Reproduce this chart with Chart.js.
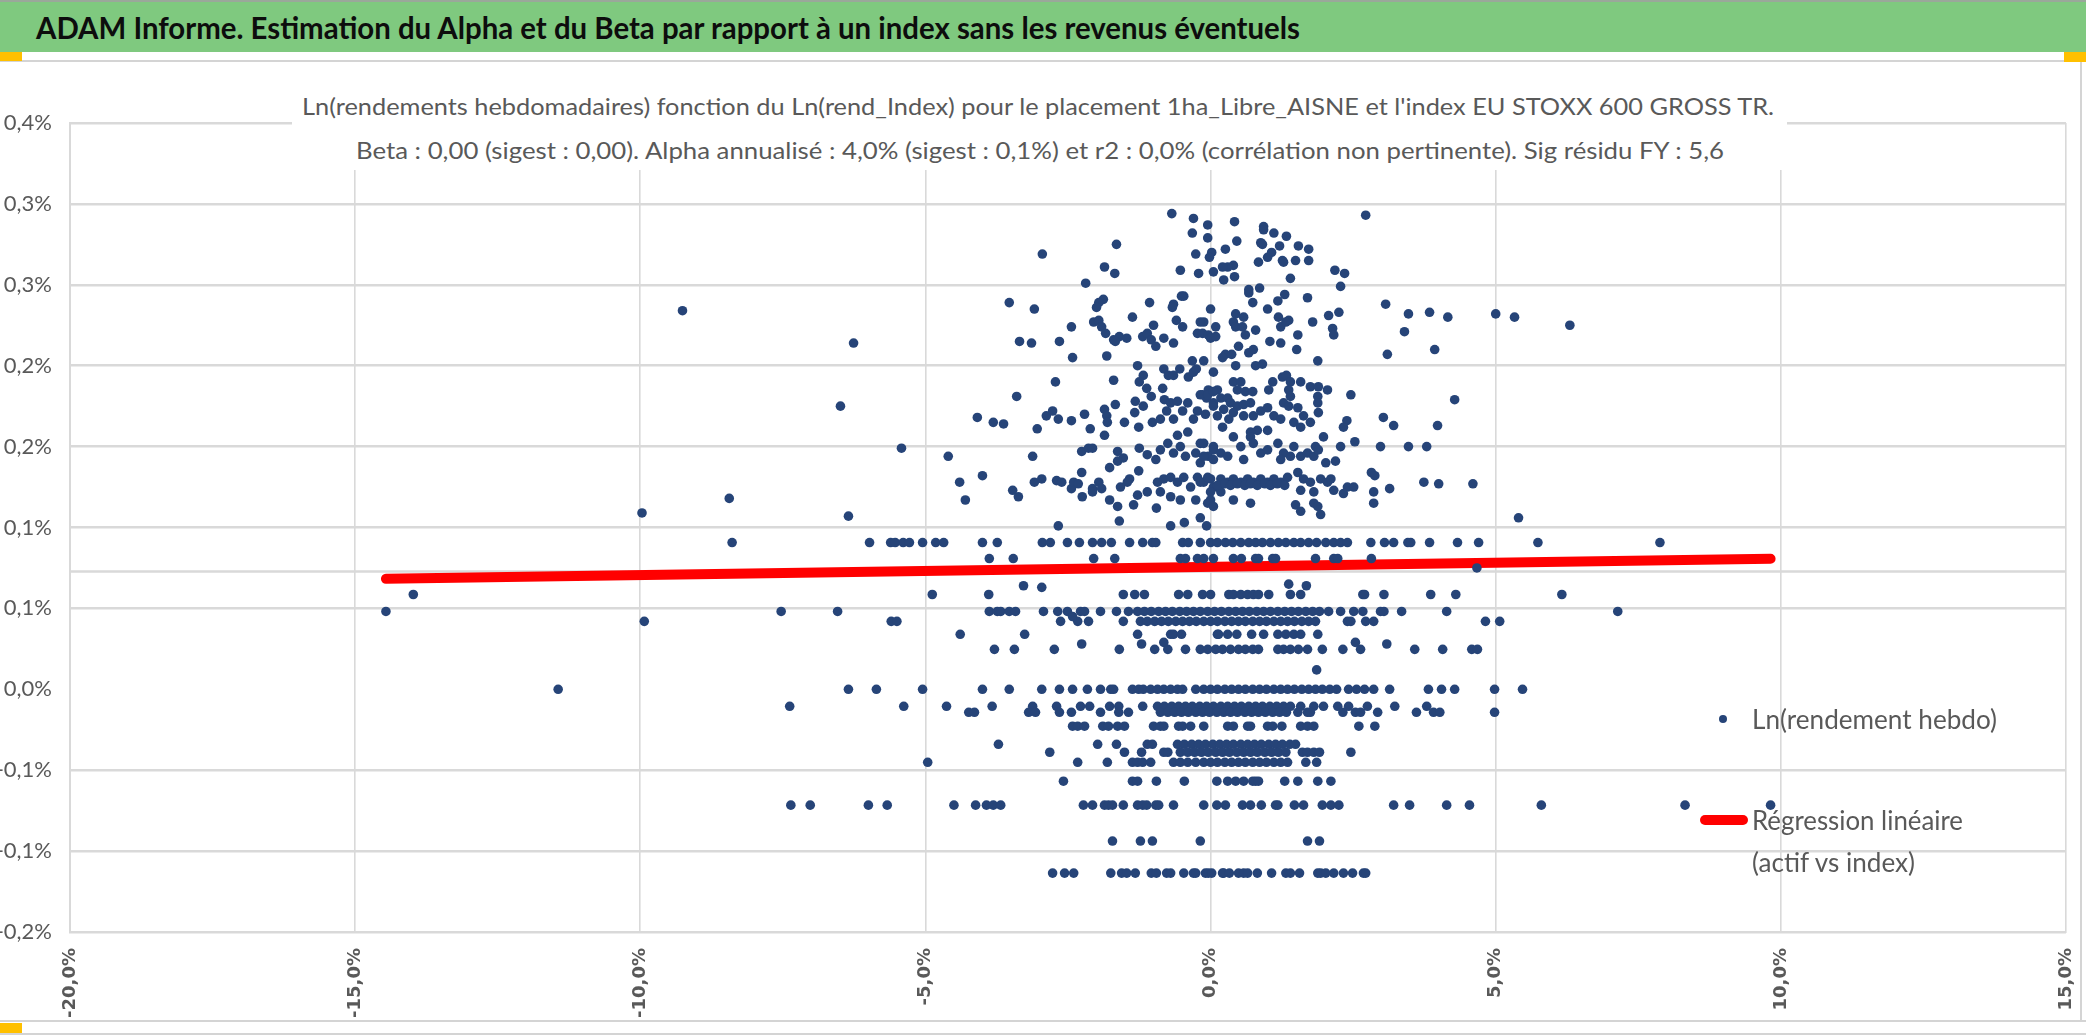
<!DOCTYPE html>
<html><head><meta charset="utf-8">
<script src="https://cdn.jsdelivr.net/npm/chart.js@4.4.1/dist/chart.umd.min.js"></script>
<style>
html,body{margin:0;padding:0;background:#fff;width:2086px;height:1035px;overflow:hidden;}
#wrap{position:relative;width:2086px;height:1035px;}
canvas{position:absolute;left:0;top:0;}
.abs{position:absolute;}
.fit{position:absolute;white-space:nowrap;transform-origin:0 50%;line-height:1;font-family:'Liberation Sans Narrow','Lato',sans-serif;}
</style></head><body>
<div id="wrap">
<canvas id="c" width="2086" height="1035"></canvas>
<div class="abs" style="left:0;top:0;width:2086px;height:2px;background:#9aa89a"></div>
<div class="abs" style="left:0;top:2px;width:2086px;height:50px;background:#7fc97f"></div>
<div class="fit" data-w="1264" style="left:36px;top:27px;font-size:30px;font-weight:bold;color:#0d0d0d">ADAM Informe. Estimation du Alpha et du Beta par rapport à un index sans les revenus éventuels</div>
<div class="abs" style="left:0;top:60px;width:2086px;height:2px;background:#d4d4d4"></div>
<div class="abs" style="left:0;top:52px;width:22px;height:9px;background:#ffc000"></div>
<div class="abs" style="left:2064px;top:52px;width:22px;height:10px;background:#ffc000"></div>
<div class="abs" style="left:2080px;top:62px;width:2px;height:960px;background:#d4d4d4"></div>
<div class="abs" style="left:0;top:1020px;width:2086px;height:2px;background:#d4d4d4"></div>
<div class="abs" style="left:0;top:1023px;width:22px;height:10px;background:#ffc000"></div>
<div class="abs" style="left:0;top:1033px;width:2086px;height:2px;background:#d4d4d4"></div>
<div class="abs" style="left:292px;top:63px;width:1495px;height:107px;background:#fff"></div>
<div class="fit" data-w="1472" style="left:302px;top:106px;font-size:24px;color:#595959">Ln(rendements hebdomadaires) fonction du Ln(rend_Index) pour le placement 1ha_Libre_AISNE et l'index EU STOXX 600 GROSS TR.</div>
<div class="fit" data-w="1368" style="left:356px;top:150px;font-size:24px;color:#595959">Beta : 0,00 (sigest : 0,00). Alpha annualisé : 4,0% (sigest : 0,1%) et r2 : 0,0% (corrélation non pertinente). Sig résidu FY : 5,6</div>
<div class="abs" id="legDot" style="left:1719px;top:715px;width:8px;height:8px;border-radius:50%"></div>
<div class="fit" data-w="245" style="left:1752px;top:719px;font-size:26px;color:#595959">Ln(rendement hebdo)</div>
<div class="abs" id="legLine" style="left:1700px;top:815px;width:48px;height:10px;border-radius:5px"></div>
<div class="fit" data-w="211" style="left:1752px;top:820px;font-size:26px;color:#595959">Régression linéaire</div>
<div class="fit" data-w="163" style="left:1752px;top:862px;font-size:26px;color:#595959">(actif vs index)</div>
</div>
<script>
// ---------- DATA (values in %) ----------
const xTickValues = [-20,-15,-10,-5,0,5,10,15];
const xTickLabels = ['-20,0%','-15,0%','-10,0%','-5,0%','0,0%','5,0%','10,0%','15,0%'];
const yTickValues = [-0.15,-0.10,-0.05,0,0.05,0.10,0.15,0.20,0.25,0.30,0.35];
const yTickLabels = ['-0,2%','-0,1%','-0,1%','0,0%','0,1%','0,1%','0,2%','0,2%','0,3%','0,3%','0,4%'];

// regression line (actif vs index)
const regressionX = [-14.46, 9.82];
const regressionY = [0.0683, 0.0807];
// horizontal axis crossing level
const axisCrossY = 0.0728;

// weekly returns lying on discrete levels: level (asset return) and index returns on that level
const rowLevels = [0.0907,0.0808,0.0586,0.0481,0.0420,0.0340,0.0247,0,-0.0105,-0.0142,-0.0228,-0.0340,-0.0389,-0.0451,-0.0568,-0.0716,-0.0938,-0.1136];
const rowIndexX = [
 [-8.39,-5.98,-5.61,-5.53,-5.39,-5.28,-5.05,-4.82,-4.68,-4.00,-3.74,-2.95,-2.81,-2.51,-2.30,-2.07,-1.91,-1.74,-1.42,-1.19,-1.02,-0.96,-0.49,-0.39,-0.18,0.00,0.12,0.26,0.39,0.53,0.67,0.79,0.91,1.05,1.19,1.32,1.46,1.58,1.72,1.86,2.02,2.16,2.28,2.40,2.81,3.05,3.21,3.46,3.51,3.84,4.33,4.70,5.74,7.88],
 [-3.88,-3.46,-2.05,-1.68,-0.53,-0.44,-0.23,-0.12,0.05,0.40,0.54,0.79,0.84,1.09,1.14,1.84,2.16,2.23,2.82],
 [-13.98,-4.88,-3.89,-1.53,-1.33,-1.16,-0.56,-0.40,-0.14,0.00,0.32,0.40,0.53,0.65,0.75,0.84,1.02,1.40,1.58,2.67,2.70,3.04,3.86,4.30,6.16],
 [-14.46,-7.53,-6.54,-3.88,-3.74,-3.68,-3.53,-3.42,-2.93,-2.68,-2.51,-2.28,-2.21,-1.93,-1.65,-1.44,-1.28,-1.16,-1.04,-0.91,-0.79,-0.67,-0.54,-0.42,-0.30,-0.18,-0.05,0.07,0.19,0.32,0.44,0.56,0.68,0.81,0.93,1.05,1.18,1.30,1.42,1.54,1.67,1.79,1.91,2.07,2.28,2.51,2.67,2.98,3.04,3.35,4.14,7.14],
 [-9.93,-5.60,-5.50,-2.63,-2.33,-2.14,-1.53,-1.23,-1.11,-0.98,-0.86,-0.74,-0.61,-0.49,-0.37,-0.25,-0.12,0.00,0.12,0.25,0.37,0.49,0.61,0.74,0.86,0.98,1.11,1.23,1.35,1.47,1.60,1.72,1.84,2.40,2.46,2.72,2.86,4.82,5.07],
 [-4.39,-3.26,-1.28,-0.70,-0.65,-0.51,0.12,0.14,0.30,0.46,0.72,0.93,1.18,1.32,1.46,1.58,1.88],
 [-3.79,-3.44,-2.74,-1.60,-0.98,-0.75,-0.44,-0.18,-0.05,0.09,0.21,0.35,0.49,0.61,0.74,0.84,1.18,1.28,1.40,1.54,1.70,1.96,2.32,2.63,3.58,4.07,4.58,4.68],
 [-11.44,-6.35,-5.86,-5.05,-4.00,-3.53,-2.96,-2.65,-2.42,-2.16,-1.93,-1.75,-1.70,-1.37,-1.26,-1.18,-1.05,-0.93,-0.82,-0.70,-0.58,-0.49,-0.26,-0.12,0.00,0.12,0.25,0.37,0.49,0.61,0.74,0.86,0.98,1.11,1.23,1.35,1.47,1.60,1.72,1.84,1.96,2.09,2.21,2.42,2.56,2.70,2.86,3.14,3.82,4.05,4.28,4.98,5.47],
 [-7.38,-5.38,-4.63,-3.83,-3.12,-2.70,-2.28,-2.12,-1.77,-1.61,-1.19,-0.93,-0.81,-0.68,-0.56,-0.44,-0.32,-0.19,-0.07,0.05,0.18,0.30,0.42,0.54,0.67,0.79,0.91,1.04,1.16,1.28,1.40,1.58,1.81,1.98,2.23,2.42,2.75,3.23,3.79],
 [-4.24,-4.14,-3.19,-3.07,-2.65,-2.44,-1.93,-1.61,-1.44,-0.88,-0.75,-0.63,-0.51,-0.39,-0.26,-0.14,-0.02,0.11,0.23,0.35,0.47,0.60,0.72,0.84,0.96,1.09,1.21,1.33,1.53,1.70,1.75,2.32,2.54,2.63,2.93,3.61,3.91,4.02,4.98],
 [-2.42,-2.33,-2.21,-1.89,-1.79,-1.63,-1.51,-1.00,-0.88,-0.82,-0.56,-0.49,-0.35,-0.12,0.30,0.40,0.65,0.70,1.00,1.09,1.25,1.58,1.70,1.81,2.60,2.88],
 [-3.72,-1.98,-1.65,-1.11,-1.02,-0.58,-0.46,-0.33,-0.21,-0.09,0.04,0.16,0.28,0.40,0.53,0.65,0.77,0.89,1.02,1.14,1.26,1.39,1.49],
 [-2.82,-1.51,-1.21,-0.82,-0.75,-0.53,-0.40,-0.28,-0.16,-0.04,0.09,0.21,0.33,0.46,0.58,0.70,0.82,0.95,1.07,1.19,1.32,1.61,1.70,1.81,1.91,2.46],
 [-4.96,-2.33,-1.81,-1.37,-1.28,-1.19,-1.05,-0.65,-0.53,-0.40,-0.26,-0.12,0.00,0.12,0.25,0.37,0.49,0.61,0.74,0.86,0.98,1.11,1.23,1.35,1.67,1.86],
 [-2.58,-1.37,-1.28,-0.95,-0.46,0.11,0.30,0.44,0.58,0.74,0.79,0.84,1.30,1.53,1.88,2.11],
 [-7.36,-7.02,-6.00,-5.67,-4.50,-4.12,-3.93,-3.81,-3.68,-2.23,-2.07,-1.86,-1.79,-1.72,-1.53,-1.28,-1.19,-1.12,-0.96,-0.91,-0.65,-0.12,0.11,0.26,0.56,0.70,0.89,1.14,1.18,1.47,1.63,1.96,2.11,2.25,3.21,3.49,4.14,4.54,5.80,8.32,9.82],
 [-1.72,-1.23,-1.02,-0.18,1.70,1.91],
 [-2.77,-2.56,-2.40,-1.75,-1.56,-1.47,-1.32,-1.04,-0.95,-0.77,-0.70,-0.47,-0.30,-0.26,-0.09,-0.04,0.02,0.21,0.23,0.33,0.49,0.58,0.65,0.82,1.07,1.32,1.40,1.56,1.88,1.93,2.02,2.16,2.33,2.49,2.68,2.72]
];

// other weekly returns: [index return, asset return]
const freePoints = [
[-9.97,0.109],[-8.44,0.118],[-9.26,0.234],[-6.26,0.214],[-6.49,0.175],[-6.35,0.107],[-5.42,0.149],
[-0.68,0.294],[-0.30,0.291],[-0.05,0.287],[-0.32,0.282],[-0.05,0.279],[-1.65,0.275],[-2.95,0.269],[-0.26,0.269],[0.02,0.270],[-0.02,0.267],[-1.86,0.261],[-1.68,0.257],[-0.53,0.259],[-0.21,0.257],[0.05,0.258],[-2.19,0.251],
[-3.53,0.239],[-3.09,0.235],[-1.88,0.241],[-1.96,0.239],[-2.00,0.236],[-1.07,0.239],[-0.65,0.238],[-0.67,0.236],[-0.47,0.243],[-0.51,0.243],[0.00,0.235],[-1.37,0.230],[-2.44,0.224],[-2.05,0.227],[-1.96,0.228],[-1.91,0.224],[-1.84,0.220],[-1.00,0.225],[-0.60,0.228],[-0.49,0.224],[-0.12,0.227],[-0.23,0.220],[-0.14,0.220],[-0.04,0.219],[0.09,0.224],
[-3.35,0.215],[-3.14,0.214],[-2.65,0.215],[-1.70,0.216],[-1.60,0.218],[-1.47,0.217],[-1.67,0.215],[-1.19,0.218],[-1.11,0.220],[-1.04,0.216],[-0.96,0.212],[-0.82,0.217],[-0.65,0.214],[0.00,0.217],
[-2.42,0.205],[-1.82,0.206],[-1.28,0.200],[-0.82,0.198],[-0.74,0.194],[-0.65,0.194],[-0.54,0.198],[-0.39,0.193],[-0.30,0.196],[-0.25,0.198],[-0.32,0.203],[-0.12,0.203],[0.05,0.196],
[-2.72,0.190],[-3.40,0.181],[-1.70,0.191],[-1.18,0.194],[-1.25,0.190],[-1.12,0.186],[-1.04,0.181],[-0.84,0.186],
[-4.09,0.168],[-3.81,0.165],[-3.63,0.164],[-3.04,0.161],[-2.88,0.169],[-2.77,0.172],[-2.67,0.167],[-2.44,0.166],[-2.21,0.170],[-2.11,0.161],[-1.86,0.173],[-1.82,0.169],[-1.81,0.165],[-1.86,0.157],[-1.67,0.176],[-1.51,0.165],[-1.32,0.178],[-1.33,0.171],[-1.26,0.162],[-1.18,0.175],
[-1.02,0.165],[-0.81,0.179],[-0.77,0.172],[-0.70,0.177],[-0.58,0.178],[-0.49,0.172],[-0.40,0.177],[-0.30,0.167],[-0.23,0.172],[-0.14,0.182],[-0.04,0.185],[0.05,0.177],[0.12,0.169],[-0.58,0.157],[-0.40,0.159],[-0.18,0.152],[0.05,0.150],[0.12,0.185],[-0.07,0.180],[-0.09,0.170],[-0.88,0.167],[-0.65,0.167],
[-1.25,0.149],[-1.11,0.145],[-0.96,0.142],[-0.88,0.148],[-0.75,0.152],[-0.65,0.146],[-0.53,0.150],[-0.44,0.144],[-0.26,0.146],[-0.18,0.140],[-0.04,0.144],[0.05,0.148],
[-0.82,0.130],[-0.70,0.131],[-0.58,0.128],[-0.47,0.131],[-0.35,0.125],[-0.23,0.131],[-0.12,0.128],[0.00,0.130],[0.12,0.125],[-0.93,0.128],[-1.26,0.135],[-1.42,0.130],[-1.28,0.120],[-1.35,0.114],[-1.11,0.122],[-0.88,0.122],[-0.70,0.119],[-0.53,0.117],[-0.26,0.117],[0.00,0.117],[-0.70,0.101],[-0.46,0.103],[-0.18,0.106],[-0.07,0.101],[-0.95,0.112],[-1.77,0.137],[-1.77,0.117],[-1.63,0.113],[-1.60,0.104],[-2.67,0.101],[-1.63,0.147],[-1.53,0.143],[-1.63,0.141],[-1.46,0.128],[-1.58,0.125],
[-4.60,0.144],[-4.40,0.128],[-4.30,0.117],[-4.00,0.132],[-3.47,0.123],[-3.37,0.119],[-3.12,0.144],[-3.09,0.128],[-2.96,0.130],[-2.70,0.129],[-2.61,0.128],[-2.44,0.124],[-2.40,0.128],[-2.32,0.127],[-2.25,0.119],[-2.26,0.134],[-2.26,0.147],[-2.14,0.149],[-2.07,0.149],[-2.07,0.124],[-2.07,0.122],[-1.96,0.128],[-1.91,0.124],
[2.72,0.293],[0.42,0.289],[0.46,0.277],[0.93,0.286],[0.93,0.284],[1.11,0.282],[1.33,0.280],[0.26,0.272],[0.88,0.276],[0.91,0.275],[1.07,0.270],[1.00,0.267],[1.21,0.274],[1.26,0.265],[1.28,0.264],[0.84,0.264],[1.54,0.274],[1.72,0.272],[1.72,0.265],[1.49,0.265],[0.40,0.262],[0.30,0.261],[0.21,0.261],[0.23,0.253],[0.42,0.255],[1.40,0.254],[2.18,0.259],[2.35,0.257],[2.28,0.249],
[0.67,0.247],[0.67,0.245],[0.86,0.248],[0.74,0.239],[1.30,0.244],[1.18,0.240],[1.70,0.242],[1.00,0.235],[2.07,0.231],[2.25,0.233],[1.79,0.227],[2.14,0.223],[2.16,0.219],[1.53,0.219],[1.51,0.210],[1.88,0.203],[1.04,0.215],[1.23,0.214],[1.19,0.230],[1.37,0.228],[1.23,0.224],[1.32,0.227],
[3.07,0.238],[3.47,0.232],[3.84,0.233],[4.16,0.230],[5.00,0.232],[5.33,0.230],[3.40,0.221],[3.10,0.207],[3.93,0.210],[6.30,0.225],
[-0.18,0.227],[0.09,0.218],[0.44,0.232],[0.58,0.230],[0.40,0.227],[0.44,0.224],[0.56,0.224],[0.61,0.219],[0.79,0.222],[0.49,0.212],[0.26,0.207],[0.21,0.205],[0.37,0.207],[0.67,0.208],[0.75,0.210],[0.79,0.200],[0.91,0.201],[0.44,0.200],
[0.40,0.190],[0.53,0.190],[0.47,0.185],[0.61,0.184],[0.74,0.184],[-0.18,0.182],[-0.05,0.182],[0.05,0.184],[0.18,0.180],[0.30,0.180],[0.35,0.177],[0.47,0.175],[0.58,0.176],[0.70,0.177],[0.05,0.175],[0.23,0.173],[0.32,0.167],[0.40,0.171],[0.58,0.169],[0.75,0.169],[0.88,0.172],[1.00,0.174],[1.11,0.169],[1.23,0.167],[1.02,0.185],[1.09,0.190],[1.26,0.193],[1.33,0.194],[1.40,0.190],[1.37,0.185],[1.40,0.181],[1.28,0.177],[1.37,0.175],[1.53,0.174],[1.58,0.190],[1.75,0.187],[1.89,0.187],[2.05,0.185],[1.88,0.181],[1.88,0.177],[1.89,0.171],[1.63,0.169],[1.46,0.165],[1.58,0.162],[1.75,0.165],[1.00,0.160],[0.82,0.160],[0.70,0.159],[0.21,0.162],
[-0.12,0.152],[0.18,0.146],[0.40,0.156],[0.53,0.150],[0.70,0.156],[0.75,0.152],[0.88,0.146],[1.00,0.148],[1.18,0.152],[1.28,0.146],[1.46,0.150],[1.58,0.144],[1.70,0.146],[1.81,0.144],[-0.12,0.144],[0.05,0.142],[0.30,0.144],[0.58,0.142],[1.23,0.142],[1.40,0.144],[1.84,0.150],[1.89,0.148],[2.02,0.140],[2.19,0.141],[1.98,0.156],[2.28,0.150],[2.53,0.153],
[2.46,0.182],[2.39,0.166],[2.33,0.162],[2.98,0.150],[3.47,0.150],[3.79,0.150],[2.82,0.134],[2.88,0.132],[3.14,0.124],[2.86,0.122],[2.86,0.115],[3.74,0.128],[4.00,0.127],[4.60,0.127],[5.40,0.106],[1.93,0.108],[4.28,0.179],[3.03,0.168],[3.21,0.163],[3.98,0.163],
[-0.18,0.128],[-0.05,0.131],[0.05,0.125],[0.18,0.130],[0.30,0.128],[0.40,0.130],[0.53,0.128],[0.65,0.130],[0.75,0.128],[0.88,0.130],[1.00,0.128],[1.11,0.130],[1.23,0.128],[1.35,0.131],[0.00,0.122],[0.18,0.122],[0.40,0.117],[0.70,0.115],[1.53,0.134],[1.63,0.130],[1.75,0.128],[1.58,0.123],[1.81,0.122],[1.93,0.130],[2.05,0.128],[2.16,0.123],[2.11,0.130],[2.40,0.125],[2.33,0.121],[2.51,0.125],[1.81,0.115],[1.88,0.113],[1.49,0.114],[1.58,0.110],[-0.05,0.115],[0.05,0.113],
[0.12,0.126],[0.25,0.127],[0.35,0.126],[0.47,0.127],[0.60,0.126],[0.70,0.127],[0.82,0.126],[0.95,0.127],[1.05,0.126],[1.17,0.127],[1.30,0.126],
[-3.28,0.064],[-2.96,0.063],[1.37,0.065],[1.68,0.064],[4.67,0.075],[-2.42,0.045],[-2.26,0.028],[-1.21,0.028],[-0.82,0.029],[2.54,0.029],[3.09,0.028],[1.86,0.012]
];

// ---------- STYLE ----------
const POINT_COLOR = '#264478';
const REG_COLOR = '#ff0000';
const GRID = '#d9d9d9';
const TXT = '#595959';
const NARROW = "'Liberation Sans Narrow', 'Lato', sans-serif";

document.getElementById('legDot').style.background = POINT_COLOR;
document.getElementById('legLine').style.background = REG_COLOR;

const scatterData = [];
rowLevels.forEach((y, i) => rowIndexX[i].forEach(x => scatterData.push({x: x, y: y})));
freePoints.forEach(p => scatterData.push({x: p[0], y: p[1]}));
const regData = regressionX.map((x, i) => ({x: x, y: regressionY[i]}));
const crossData = [{x: xTickValues[0], y: axisCrossY}, {x: xTickValues[xTickValues.length - 1], y: axisCrossY}];

new Chart(document.getElementById('c'), {
  type: 'scatter',
  data: {
    datasets: [
      {type: 'scatter', label: 'Ln(rendement hebdo)', data: scatterData, backgroundColor: POINT_COLOR, borderWidth: 0, pointRadius: 4.8, pointHoverRadius: 4.8, order: 1},
      {type: 'line', label: 'Régression linéaire (actif vs index)', data: regData, borderColor: REG_COLOR, borderWidth: 10, borderCapStyle: 'round', pointRadius: 0, fill: false, order: 2},
      {type: 'line', label: 'axe', data: crossData, borderColor: GRID, borderWidth: 2.5, pointRadius: 0, fill: false, order: 3}
    ]
  },
  options: {
    responsive: false, animation: false, devicePixelRatio: 1,
    layout: {padding: {top: 123, right: 20, left: 0, bottom: 0}},
    plugins: {legend: {display: false}, tooltip: {enabled: false}, title: {display: false}},
    scales: {
      x: {
        type: 'linear', min: xTickValues[0], max: xTickValues[xTickValues.length - 1],
        afterBuildTicks: s => { s.ticks = xTickValues.map(v => ({value: v})); },
        afterFit: s => { s.height = 103; s.paddingLeft = 0; s.paddingRight = 0; },
        ticks: {callback: (v, i) => xTickLabels[i], minRotation: 90, maxRotation: 90, autoSkip: false, padding: 16,
                color: TXT, font: {family: 'DejaVu Sans', size: 18, weight: 'bold'}},
        grid: {color: GRID, lineWidth: 1.6, drawTicks: false},
        border: {color: GRID, width: 2}
      },
      y: {
        type: 'linear', min: yTickValues[0], max: yTickValues[yTickValues.length - 1],
        afterBuildTicks: s => { s.ticks = yTickValues.map(v => ({value: v})); },
        afterFit: s => { s.width = 70; s.paddingTop = 0; s.paddingBottom = 0; },
        ticks: {callback: (v, i) => yTickLabels[i], autoSkip: false, padding: 18, color: TXT, font: {family: NARROW, size: 22}},
        grid: {color: c => (c.tick && Math.abs(c.tick.value) < 1e-9) ? 'rgba(0,0,0,0)' : GRID, lineWidth: 2.5, drawTicks: false},
        border: {color: GRID, width: 2}
      }
    }
  }
});

function fitAll() {
  document.querySelectorAll('.fit').forEach(el => {
    el.style.transform = 'translateY(-50%)';
    const w = el.getBoundingClientRect().width;
    const k = (+el.dataset.w) / w;
    el.style.transform = 'translateY(-50%) scaleX(' + k + ')';
  });
}
fitAll();
if (document.fonts && document.fonts.ready) document.fonts.ready.then(fitAll);
</script>
</body></html>
